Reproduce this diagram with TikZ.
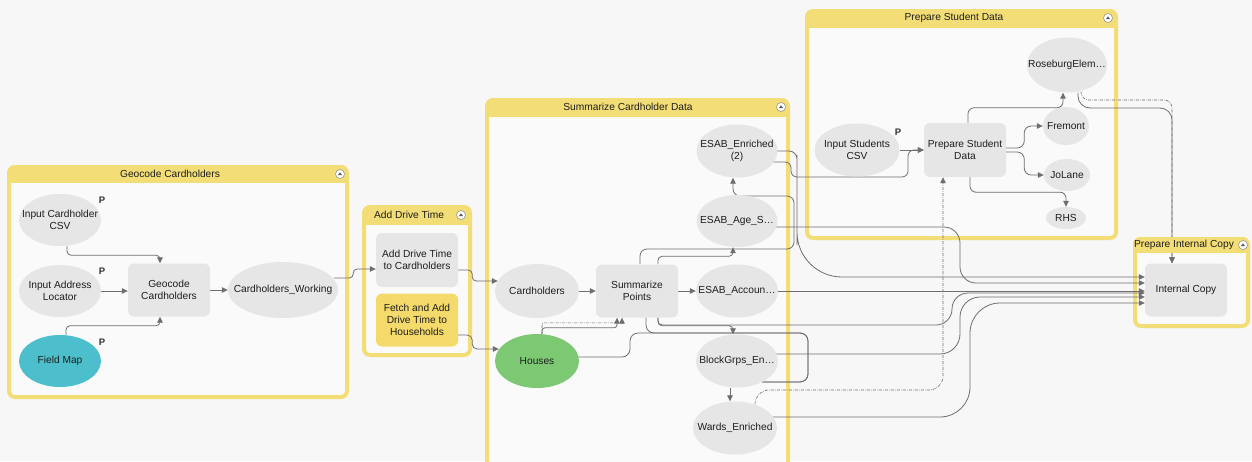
\documentclass[tikz,border=0pt]{standalone}
\usepackage{fontspec}
\setmainfont{Liberation Sans}
\usetikzlibrary{shapes.geometric,arrows.meta}

\pgfdeclarelayer{panels}
\pgfdeclarelayer{wires}
\pgfsetlayers{panels,wires,main}

\definecolor{canvasbg}{HTML}{F7F7F7}
\definecolor{panelbg}{HTML}{FAFAFA}
\definecolor{panelframe}{HTML}{F3DD76}
\definecolor{itemgray}{HTML}{E6E6E6}
\definecolor{fieldteal}{HTML}{4DBFCC}
\definecolor{housegreen}{HTML}{7DC873}
\definecolor{toolyellow}{HTML}{F4DA6A}
\definecolor{wiregray}{HTML}{6E6E6E}
\definecolor{inkgray}{HTML}{1E1E1E}

\tikzset{
  every node/.style={font=\fontsize{10.2}{12}\selectfont, text=inkgray},
  databody/.style={ellipse, fill=itemgray, inner sep=0pt},
  caption/.style={align=center, inner sep=0pt},
  toolbox/.style={rectangle, rounded corners=6pt, fill=itemgray, align=center,
                  inner sep=0pt, minimum width=82pt, minimum height=53pt},
  pmark/.style={font=\fontsize{9.5}{10}\selectfont\bfseries, text=black!80, inner sep=0pt},
  paneltitle/.style={inner sep=0pt},
  wire/.style={draw=wiregray, line width=0.8pt},
  flow/.style={wire, -{Triangle[length=6pt,width=5.5pt]}},
  flowdots/.style={flow, line width=0.6pt, dash pattern=on 3pt off 1.2pt on 0.6pt off 1.2pt},
}

% data element: name, position, width, height, fill, caption
\newcommand\datum[6]{%
  \node[databody, fill=#5, minimum width=#3pt, minimum height=#4pt] (#1) at (#2) {};
  \node[caption] (#1-label) at (#1.center) {#6};
}

% group panel: x1, y1, x2, y2, bottom of the header band
\newcommand\panel[5]{%
  \begin{scope}
    \clip[rounded corners=6pt] (#1,#2) rectangle (#3,#4);
    \fill[panelbg] (#1,#2) rectangle (#3,#4);
    \fill[panelframe] (#1,#2) rectangle (#3,#5);
  \end{scope}
  \draw[panelframe, line width=4pt, rounded corners=6pt] (#1,#2) rectangle (#3,#4);
}

% collapse button in a panel header
\newcommand\foldicon[2]{%
  \filldraw[fill=white, draw=black!45, line width=0.5pt] (#1,#2) circle (4.5pt);
  \fill[black!65] (#1-2.2,#2+1.2) -- (#1+2.2,#2+1.2) -- (#1,#2-1.6) -- cycle;
}

\begin{document}
\begin{tikzpicture}[x=1pt,y=-1pt]
\useasboundingbox (0,0) rectangle (1252,461);

% ---------- panels ----------
\begin{pgfonlayer}{panels}
  \fill[canvasbg] (0,0) rectangle (1252,461);
  \panel{9}{167}{347}{397}{183}
  \panel{364}{207}{470}{355}{225}
  \panel{487}{100}{788}{480}{117}
  \panel{807}{11}{1116}{238}{28}
  \panel{1135}{239}{1248}{326}{253}
  \foldicon{340}{174}
  \foldicon{461}{215}
  \foldicon{781}{107}
  \foldicon{1108}{18}
\end{pgfonlayer}

% header of the copy panel sits above the wire that enters it from the top
\begin{scope}
  \clip[rounded corners=8pt] (1133,237) rectangle (1250,328);
  \fill[panelframe] (1133,237) rectangle (1250,253);
\end{scope}
\foldicon{1243}{245}

\node[paneltitle] (geo-title)   at (170,174)  {Geocode Cardholders};
\node[paneltitle] (drive-title) at (409,215)  {Add Drive Time};
\node[paneltitle] (sum-title)   at (628,107)  {Summarize Cardholder Data};
\node[paneltitle] (stu-title)   at (954,18)   {Prepare Student Data};
\node[paneltitle] (copy-title)  at (1184,245) {Prepare Internal Copy};

% ---------- Geocode Cardholders ----------
\datum{csv}{60,220}{82}{52}{itemgray}{Input Cardholder\\CSV}
\datum{loc}{60,291}{82}{52}{itemgray}{Input Address\\Locator}
\datum{fmap}{60,361}{82}{52}{fieldteal}{Field Map}
\node[toolbox] (geo) at (169,290) {Geocode\\Cardholders};
\datum{cw}{283,290}{110}{56}{itemgray}{Cardholders\_Working}
\node[pmark] (csv-p)  at (102,200) {P};
\node[pmark] (loc-p)  at (102,271) {P};
\node[pmark] (fmap-p) at (102,342) {P};

% ---------- Add Drive Time ----------
\node[toolbox, minimum height=54pt] (adt) at (417,260) {Add Drive Time\\to Cardholders};
\node[toolbox, fill=toolyellow] (fetch) at (417,320) {Fetch and Add\\Drive Time to\\Households};

% ---------- Summarize Cardholder Data ----------
\datum{card}{537,291}{84}{54}{itemgray}{Cardholders}
\datum{houses}{537,361}{84}{54}{housegreen}{Houses}
\node[toolbox] (sp) at (637,291) {Summarize\\Points};
\datum{esab2}{737,151}{81}{53}{itemgray}{ESAB\_Enriched\\(2)}
\datum{esabage}{737,221}{81}{52}{itemgray}{ESAB\_Age\_S…}
\datum{esabacc}{737,291}{82}{53}{itemgray}{ESAB\_Accoun…}
\datum{bg}{737,361}{82}{53}{itemgray}{BlockGrps\_En…}
\datum{wards}{735,428}{84}{53}{itemgray}{Wards\_Enriched}

% ---------- Prepare Student Data ----------
\datum{isc}{857,150}{85}{53}{itemgray}{Input Students\\CSV}
\node[pmark] (isc-p) at (898,132) {P};
\node[toolbox, minimum height=54pt] (psd) at (965,150) {Prepare Student\\Data};
\datum{rose}{1067,65}{80}{55}{itemgray}{RoseburgElem…}
\datum{fre}{1066,126}{46}{38}{itemgray}{Fremont}
\datum{jol}{1067,175}{46}{32}{itemgray}{JoLane}
\datum{rhs}{1066,218}{40}{22}{itemgray}{RHS}

% ---------- Prepare Internal Copy ----------
\node[toolbox] (ic) at (1186,290) {Internal Copy};

% ---------- connectors ----------
\begin{pgfonlayer}{wires}
  % geocoding
  \draw[flow, rounded corners=4pt] ([xshift=7pt]csv.south) -- ++(0,9) -| ([xshift=-9pt]geo.north);
  \draw[flow] (loc.east) -- (loc.east -| geo.west);
  \draw[flow, rounded corners=4pt] ([xshift=6pt]fmap.north) -- ++(0,-9) -| ([xshift=-9pt]geo.south);
  \draw[flow] (geo.east) -- (geo.east -| cw.west);

  % drive time
  \draw[flow, rounded corners=4pt] ([xshift=-4pt,yshift=12pt]cw.east) -- ++(19,0) |- ([yshift=-9pt]adt.west);
  \draw[flow, rounded corners=4pt] ([yshift=-10pt]adt.east) -- ++(14,0) |- ([xshift=3pt,yshift=10pt]card.west);
  \draw[flow, rounded corners=5pt] ([yshift=-15pt]fetch.east) -- ++(14,0) |- ([xshift=4pt,yshift=12pt]houses.west);

  % summarize
  \draw[flow] (card.east) -- (card.east -| sp.west);
  \draw[flow] (sp.east) -- (sp.east -| esabacc.west);
  \draw[flow, rounded corners=3pt] ([xshift=5pt]houses.north) -- ++(0,-6) -| ([xshift=-20pt]sp.south);
  \draw[flowdots, rounded corners=2pt] ([xshift=5pt]houses.north) -- ++(0,-11) -| ([xshift=-15pt]sp.south);
  \draw[flow, rounded corners=7pt] ([xshift=3pt]sp.north) |- (794,249) -- (794,196) -| ([xshift=-4pt]esab2.south);
  \draw[flow, rounded corners=4pt] ([xshift=21pt]sp.north) -- ++(0,-8) -| ([xshift=-4pt]esabage.south);
  \draw[flow, rounded corners=4pt] ([xshift=21pt]sp.south) -- ++(0,8) -| ([xshift=-4pt]bg.north);
  \draw[wire, rounded corners=8pt] ([xshift=9pt]sp.south) |- (808,333) |- ([xshift=-16pt,yshift=-21pt]bg.east);
  \draw[wire, rounded corners=8pt] ([xshift=-3pt,yshift=4pt]houses.east) -| (630,333) -- (808,333) |- ([xshift=-16pt,yshift=-21pt]bg.east);
  \draw[flow] ([xshift=-7pt]bg.south) -- ([xshift=-7pt]bg.south |- wards.north);

  % student data
  \draw[flow] (isc.east) -- (isc.east -| psd.west);
  \draw[flow, rounded corners=6pt] ([xshift=-5pt,yshift=-11pt]esab2.east) -- (791,162) |- (908,177) |- (psd.west);
  \draw[flowdots, rounded corners=14pt] ([xshift=20pt,yshift=-3pt]wards.north) |- (943,390) -- ([xshift=-22pt]psd.south);
  \draw[flow, rounded corners=6pt] ([xshift=3pt]psd.north) -- ++(0,-15) -| ([xshift=-4pt]rose.south);
  \draw[flow, rounded corners=7pt] ([yshift=2pt]psd.east) -- ++(18,0) |- (fre.west);
  \draw[flow, rounded corners=7pt] ([yshift=-2pt]psd.east) -- ++(18,0) |- (jol.west);
  \draw[flow, rounded corners=6pt] ([xshift=5pt]psd.south) -- ++(0,15) -| (rhs.north);

  % internal copy
  \draw[flow, rounded corners=8pt] ([xshift=-3pt]esab2.east) -- (797,151) -- (797,190)
        [rounded corners=45pt] -- (797,200) |- ([yshift=13pt]ic.west);
  \draw[flow, rounded corners=16pt] ([xshift=-3pt,yshift=-6pt]esabage.east) -- (960,227) |- ([yshift=7pt]ic.west);
  \draw[flow] (esabacc.east) -- (esabacc.east -| ic.west);
  \draw[flow, rounded corners=4pt] ([xshift=21pt]sp.south) |- (900,325)
        [rounded corners=16pt] -- (952,325) |- ([yshift=-3pt]ic.west);
  \draw[flow, rounded corners=20pt] ([xshift=-3pt,yshift=7pt]bg.east) -- (960,354) |- ([yshift=-7pt]ic.west);
  \draw[flow, rounded corners=30pt] ([xshift=-4pt,yshift=11pt]wards.east) -- (970,417) |- ([yshift=-13pt]ic.west);
  \draw[flow, rounded corners=12pt] ([xshift=11pt]rose.south) |- (1172,108) -- ([xshift=-14pt]ic.north);
  \draw[flowdots, rounded corners=8pt] ([xshift=14pt]rose.south) |- (1172,100) -- ([xshift=-14pt]ic.north);
\end{pgfonlayer}
\end{tikzpicture}
\end{document}
